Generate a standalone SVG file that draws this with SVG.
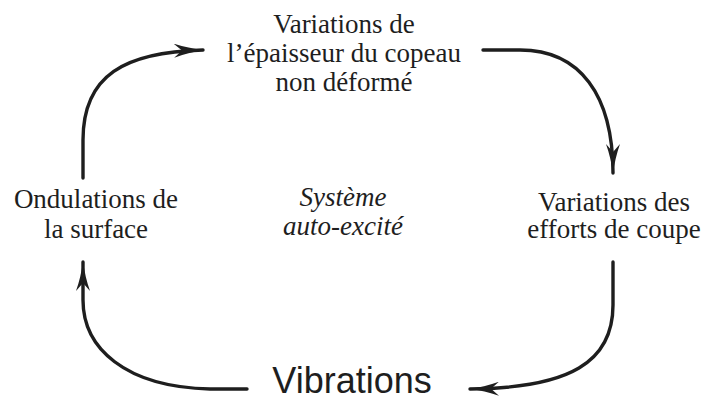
<svg xmlns="http://www.w3.org/2000/svg" width="702" height="402" viewBox="0 0 702 402">
<style>
.t{font-family:"Liberation Serif","Times New Roman",serif;font-size:27px;fill:#1e1e1e;text-anchor:middle}
.i{font-style:italic}
.h{font-family:"Liberation Sans",Arial,sans-serif;font-size:36px;fill:#1e1e1e;text-anchor:middle}
.c{fill:none;stroke:#1e1e1e;stroke-width:3.4;stroke-linecap:round;marker-end:url(#ah)}
</style>
<defs>
<marker id="ah" markerUnits="userSpaceOnUse" viewBox="0 0 30 14" refX="29" refY="7" markerWidth="30" markerHeight="14" orient="auto">
<path d="M0,0 Q14,5 30,7 Q14,9 0,14 L8,7 Z" fill="#1e1e1e"/>
</marker>
</defs>
<rect width="702" height="402" fill="#ffffff"/>
<g id="connectors">
<path class="c" d="M83,178 L83,140 C83,75 125,52 203,50"/>
<path class="c" d="M483,50 L520,50 C580,50 613,95 613,173"/>
<path class="c" d="M613,262 L613,305 C613,362 570,388 470,389"/>
<path class="c" d="M247,389 L210,389 C125,387 83,348 83,300 L83,262"/>
</g>
<g id="node-epaisseur">
<text class="t" x="344" y="33">Variations de</text>
<text class="t" x="344" y="62">l’épaisseur du copeau</text>
<text class="t" x="344" y="91">non déformé</text>
</g>
<g id="node-efforts">
<text class="t" x="614" y="211">Variations des</text>
<text class="t" x="614" y="238">efforts de coupe</text>
</g>
<g id="node-vibrations">
<text class="h" x="352" y="393">Vibrations</text>
</g>
<g id="node-ondulations">
<text class="t" x="96" y="208">Ondulations de</text>
<text class="t" x="96" y="238">la surface</text>
</g>
<g id="node-systeme">
<text class="t i" x="343" y="206">Système</text>
<text class="t i" x="343" y="235">auto-excité</text>
</g>
</svg>
